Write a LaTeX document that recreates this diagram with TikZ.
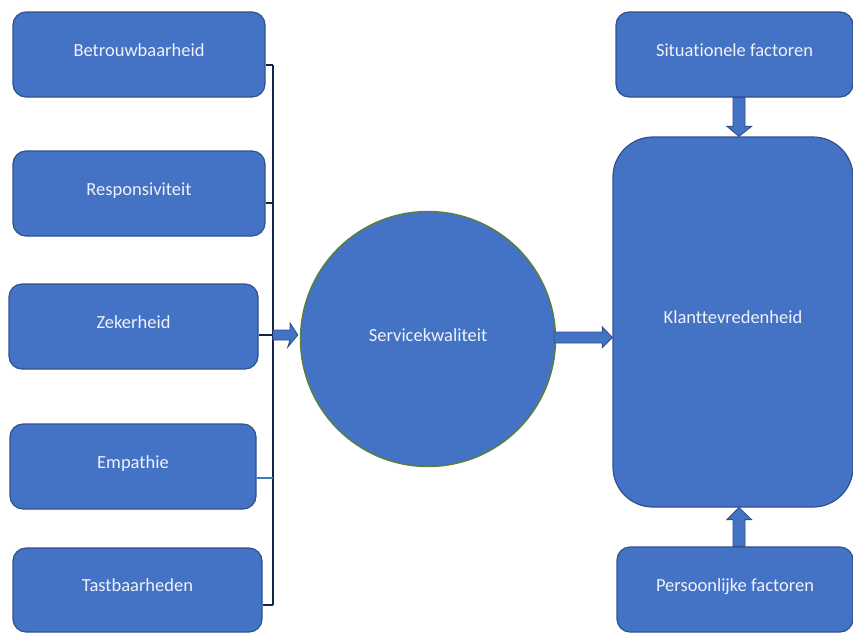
\documentclass[tikz,border=0pt]{standalone}
\usepackage{fontspec}
\setmainfont{Carlito}[Ligatures={NoCommon}]
\usetikzlibrary{calc}
\definecolor{fillc}{HTML}{4472C4}
\definecolor{bdr}{HTML}{2F528F}
\definecolor{txtc}{HTML}{EEF2FA}
\definecolor{navy}{HTML}{15244A}
\definecolor{teal}{HTML}{2E86B8}
\definecolor{circbdr}{HTML}{5A7F3A}
\tikzset{
  boxstyle/.style={draw=bdr, fill=fillc, line width=1.2pt, rounded corners=13pt,
    inner sep=0pt, text=txtc, font=\fontsize{18.5}{22}\selectfont, align=center},
  circstyle/.style={circle, draw=circbdr, fill=fillc, line width=1.4pt, inner sep=0pt,
    minimum size=255pt, text=txtc, font=\fontsize{18.5}{22}\selectfont},
  blockarrow/.style={fill=fillc, draw=bdr, line width=0.9pt, line join=miter},
  bracket/.style={draw=navy, line width=2pt},
}
\begin{document}
\begin{tikzpicture}[x=1pt,y=-1pt]
\useasboundingbox[fill=white] (0,0) rectangle (853,633);
% left boxes
\node[boxstyle, minimum width=252pt, minimum height=85pt] (b1) at (139,54.5) {\raisebox{9pt}{Betrouwbaarheid}};
\node[boxstyle, minimum width=252pt, minimum height=85pt] (b2) at (139,193.5) {\raisebox{9pt}{Responsiviteit}};
\node[boxstyle, minimum width=249pt, minimum height=85pt] (b3) at (133.5,326.5) {\raisebox{9pt}{Zekerheid}};
\node[boxstyle, minimum width=246pt, minimum height=85pt] (b4) at (133,466.5) {\raisebox{9pt}{Empathie}};
\node[boxstyle, minimum width=249pt, minimum height=84pt] (b5) at (137.5,590) {\raisebox{9pt}{Tastbaarheden}};
% circle
\node[circstyle] (sq) at (428,339) {\raisebox{8pt}{Servicekwaliteit}};
% right boxes
\node[boxstyle, minimum width=237pt, minimum height=85pt] (sit) at (734.5,54.5) {\raisebox{9pt}{Situationele factoren}};
\node[boxstyle, rounded corners=40pt, minimum width=240pt, minimum height=370pt] (kl) at (733,322) {\raisebox{10pt}{Klanttevredenheid}};
\node[boxstyle, minimum width=236pt, minimum height=85pt] (per) at (735,589.5) {\raisebox{9pt}{Persoonlijke factoren}};
% bracket
\coordinate (vt) at (273,65);
\coordinate (vb) at (273,605);
\coordinate (vm) at (273,335);
\coordinate (v2) at (273,203);
\coordinate (v4) at (273,478);
\draw[bracket] (vt) -- (vb);
\draw[bracket] (b1.east |- vt) -- (vt);
\draw[bracket] (b2.east |- v2) -- (v2);
\draw[bracket] (b3.east |- vm) -- (vm);
\draw[draw=teal, line width=2pt] (b4.east |- v4) -- (v4);
\draw[bracket] (b5.east |- vb) -- (vb);
% arrow bracket -> circle
\draw[blockarrow] ($(vm)+(0,-5)$) -- ++(17,0) -- ++(0,-7) -- ($(sq.west)+(-2,-4)$) -- ++(-10,12) -- ($(vm)+(17,5)$) -- ($(vm)+(0,5)$) -- cycle;
% arrow circle -> klant
\coordinate (ra) at ($(sq.east)+(-2,-1.5)$);
\draw[blockarrow] ($(ra)+(0,-5.5)$) -- ($(kl.west |- ra)+(-10,-5.5)$) -- ++(0,-5) -- ($(kl.west |- ra)$) -- ++(-10,10) -- ($(kl.west |- ra)+(-10,5.5)$) -- ($(ra)+(0,5.5)$) -- cycle;
% arrow situationele -> klant
\coordinate (da) at (739,0);
\draw[blockarrow] ($(da |- sit.south)+(-6,0)$) -- ($(da |- kl.north)+(-6,-10)$) -- ++(-6,0) -- ($(da |- kl.north)$) -- ++(12.5,-10) -- ++(-6.5,0) -- ($(da |- sit.south)+(6,0)$) -- cycle;
% arrow persoonlijke -> klant
\draw[blockarrow] ($(da |- per.north)+(-6,0)$) -- ($(da |- kl.south)+(-6,12)$) -- ++(-6,0) -- ($(da |- kl.south)$) -- ++(12.5,12) -- ++(-6.5,0) -- ($(da |- per.north)+(6,0)$) -- cycle;
\end{tikzpicture}
\end{document}
